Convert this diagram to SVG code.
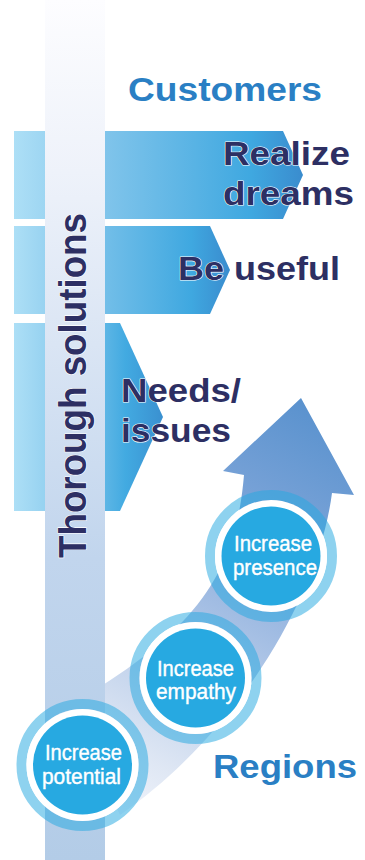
<svg xmlns="http://www.w3.org/2000/svg" width="365" height="860" viewBox="0 0 365 860">
  <defs>
    <style>
      .head { font-family: "Liberation Sans", Arial, Helvetica, sans-serif; font-weight: bold; font-size: 34px; }
      .blue { fill: #2a7fc4; }
      .navy { fill: #2d2f63; stroke: #ffffff; stroke-width: 1.2px; paint-order: stroke; stroke-linejoin: round; }
      .pill { font-family: "Liberation Sans Narrow", "Liberation Sans", Arial, sans-serif; font-size: 22.5px; fill: #ffffff; stroke: #ffffff; stroke-width: 0.4px; }
      .ring { fill: none; stroke: #27a8e0; stroke-opacity: 0.52; stroke-width: 10; }
      .gap { fill: #ffffff; }
      .disc { fill: #27a9e1; }
    </style>
    <linearGradient id="bandFill" x1="0" y1="0" x2="1" y2="0">
      <stop offset="0" stop-color="#addff6"/>
      <stop offset="0.3" stop-color="#82c5eb"/>
      <stop offset="0.82" stop-color="#3fa8e0"/>
      <stop offset="1" stop-color="#3a8cce"/>
    </linearGradient>
    <linearGradient id="bandFillShort" x1="0" y1="0" x2="1" y2="0">
      <stop offset="0" stop-color="#addff6"/>
      <stop offset="0.45" stop-color="#7cc3ea"/>
      <stop offset="0.75" stop-color="#42aae1"/>
      <stop offset="1" stop-color="#3a90d0"/>
    </linearGradient>
    <linearGradient id="pillarFill" x1="0" y1="0" x2="0" y2="1">
      <stop offset="0" stop-color="#fdfdff"/>
      <stop offset="0.2" stop-color="#eef2fa"/>
      <stop offset="0.4" stop-color="#dae5f4"/>
      <stop offset="0.65" stop-color="#c1d5ed"/>
      <stop offset="1" stop-color="#b3cce7"/>
    </linearGradient>
    <linearGradient id="arrowFill" gradientUnits="userSpaceOnUse" x1="320" y1="410" x2="110" y2="800">
      <stop offset="0" stop-color="#5a92ce"/>
      <stop offset="0.25" stop-color="#78a2d7"/>
      <stop offset="0.5" stop-color="#a2bde3"/>
      <stop offset="0.88" stop-color="#dfe7f4"/>
      <stop offset="1" stop-color="#eef2fa"/>
    </linearGradient>
  </defs>

  <!-- stepped bands, widest on top -->
  <g id="band-dreams">
    <polygon points="14,131 283,131 303,175 283,219 14,219" fill="url(#bandFill)"/>
  </g>
  <g id="band-useful">
    <polygon points="14,226 210,226 230,270 210,314 14,314" fill="url(#bandFill)"/>
  </g>
  <g id="band-needs">
    <polygon points="14,323 120,323 163,417 120,511 14,511" fill="url(#bandFillShort)"/>
  </g>

  <!-- rising arrow from regions toward customers -->
  <g id="connectors">
    <path d="M 244 475 L 223 471 L 301 398 L 354 495 L 332 493 C 318 600 235 735 120 815 L 70 705 C 200 630 236 570 244 475 Z" fill="url(#arrowFill)"/>
  </g>

  <!-- vertical pillar -->
  <g id="pillar">
    <rect x="45" y="0" width="60" height="860" fill="url(#pillarFill)"/>
    <text class="head navy" transform="translate(86 558) rotate(-90)" textLength="345" lengthAdjust="spacingAndGlyphs" style="font-size:38px">Thorough solutions</text>
  </g>

  <!-- band labels -->
  <g id="label-customers">
    <text class="head blue" x="128" y="101" textLength="194" lengthAdjust="spacingAndGlyphs">Customers</text>
  </g>
  <g id="label-dreams">
    <text class="head navy" x="223" y="165" textLength="127" lengthAdjust="spacingAndGlyphs">Realize</text>
    <text class="head navy" x="223" y="205" textLength="131" lengthAdjust="spacingAndGlyphs">dreams</text>
  </g>
  <g id="label-useful">
    <text class="head navy" x="178" y="280" textLength="162" lengthAdjust="spacingAndGlyphs">Be useful</text>
  </g>
  <g id="label-needs">
    <text class="head navy" x="121" y="402" textLength="120" lengthAdjust="spacingAndGlyphs">Needs/</text>
    <text class="head navy" x="121" y="442" textLength="110" lengthAdjust="spacingAndGlyphs">issues</text>
  </g>
  <g id="label-regions">
    <text class="head blue" x="213" y="778" textLength="144" lengthAdjust="spacingAndGlyphs">Regions</text>
  </g>

  <!-- stage circles -->
  <g id="stage-presence">
    <circle class="ring" cx="271" cy="556" r="61"/>
    <circle class="gap" cx="271" cy="556" r="56"/>
    <circle class="disc" cx="271" cy="556" r="49.5"/>
    <text class="pill" x="234" y="551" textLength="78" lengthAdjust="spacingAndGlyphs">Increase</text>
    <text class="pill" x="233" y="574.5" textLength="84" lengthAdjust="spacingAndGlyphs">presence</text>
  </g>
  <g id="stage-empathy">
    <circle class="ring" cx="195.5" cy="678" r="61"/>
    <circle class="gap" cx="195.5" cy="678" r="56"/>
    <circle class="disc" cx="195.5" cy="678" r="49.5"/>
    <text class="pill" x="157" y="675.5" textLength="77" lengthAdjust="spacingAndGlyphs">Increase</text>
    <text class="pill" x="156" y="699" textLength="80" lengthAdjust="spacingAndGlyphs">empathy</text>
  </g>
  <g id="stage-potential">
    <circle class="ring" cx="82.5" cy="765" r="61"/>
    <circle class="gap" cx="82.5" cy="765" r="56"/>
    <circle class="disc" cx="82.5" cy="765" r="49.5"/>
    <text class="pill" x="45" y="760" textLength="77" lengthAdjust="spacingAndGlyphs">Increase</text>
    <text class="pill" x="42" y="784" textLength="79" lengthAdjust="spacingAndGlyphs">potential</text>
  </g>
</svg>
